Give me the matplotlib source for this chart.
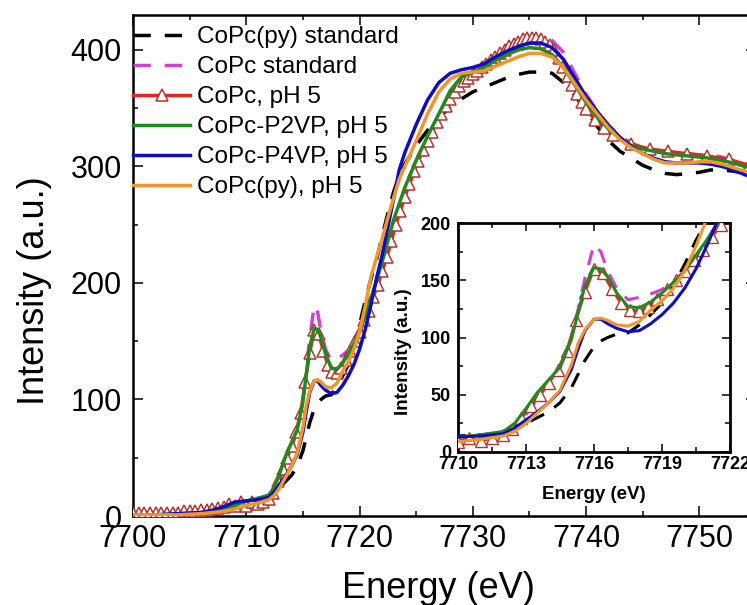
import matplotlib
matplotlib.use("Agg")
import matplotlib.pyplot as plt
from matplotlib.ticker import MultipleLocator
from matplotlib import font_manager

# ---------------- data ----------------
energy = [7700, 7702, 7704, 7706, 7707, 7708, 7709, 7710, 7711, 7712,
          7712.5, 7713, 7713.5, 7714, 7714.5, 7715, 7715.3, 7715.6, 7716, 7716.3,
          7716.6, 7717, 7717.5, 7718, 7718.5, 7719, 7719.5, 7720, 7720.5, 7721,
          7721.5, 7722, 7722.5, 7723, 7723.5, 7724, 7725, 7726, 7727, 7728,
          7729, 7730, 7731, 7732, 7733, 7734, 7735, 7736, 7737, 7738,
          7739, 7740, 7741, 7742, 7743, 7744, 7745, 7746, 7747, 7748,
          7749, 7750, 7751, 7752, 7753, 7754, 7755]

copc_py_std = [1, 1, 2, 3, 5, 8, 11, 14, 15, 17,
               20, 25, 30, 35, 43, 56, 68, 80, 92, 97,
               100, 103, 104, 111, 120, 130, 145, 164, 185, 203,
               220, 240, 260, 278, 292, 302, 318, 331, 342, 351,
               358, 364, 368, 372, 376, 379, 381, 381, 380, 372,
               361, 348, 334, 322, 313, 307, 301, 297, 294, 293,
               294, 295, 297, 297, 296, 294, 291]

copc_std = [1, 1, 2, 3, 4, 6, 8, 10, 12, 16,
            22, 33, 46, 60, 73, 100, 125, 152, 181, 175,
            158, 143, 133, 135, 138, 142, 149, 158, 170, 184,
            198, 212, 228, 245, 260, 275, 300, 322, 342, 362,
            374, 382, 388, 395, 400, 404, 407, 409, 408, 398,
            380, 362, 347, 335, 326, 320, 316, 314, 312, 312,
            311, 310, 310, 308, 305, 302, 298]

copc_p2vp = [1, 1, 2, 3, 4, 6, 9, 13, 15, 18,
             25, 38, 52, 63, 74, 98, 122, 145, 161, 160,
             153, 139, 127, 126, 131, 139, 148, 158, 172, 186,
             202, 218, 236, 254, 268, 282, 305, 326, 345, 365,
             377, 381, 385, 391, 396, 400, 402, 401, 396, 385,
             370, 355, 342, 332, 324, 318, 315, 313, 311, 310,
             309, 308, 307, 305, 303, 300, 297]

copc_p4vp = [1, 1, 2, 3, 5, 8, 12, 13, 14, 16,
             21, 28, 35, 43, 53, 72, 90, 106, 116, 116,
             112, 108, 105, 106, 112, 120, 130, 143, 160, 181,
             204, 224, 248, 272, 297, 312, 336, 357, 372, 380,
             383, 385, 388, 394, 399, 403, 406, 406, 402, 392,
             376, 360, 347, 335, 325, 317, 311, 307, 304, 303,
             303, 303, 302, 300, 297, 293, 289]

copc_py_ph5 = [1, 1, 1, 2, 3, 4, 6, 9, 11, 14,
               18, 25, 34, 43, 54, 76, 95, 107, 116, 117,
               115, 111, 110, 114, 124, 132, 143, 158, 180, 205,
               222, 238, 256, 273, 289, 300, 322, 345, 364, 375,
               380, 381, 382, 386, 390, 394, 397, 397, 394, 385,
               371, 357, 345, 333, 323, 316, 311, 306, 303, 303,
               303, 304, 304, 302, 299, 296, 292]

energy_red = [7700, 7700.5, 7701, 7701.5, 7702, 7702.5, 7703, 7703.5, 7704, 7704.5,
              7705, 7705.5, 7706, 7706.5, 7707, 7707.5, 7708, 7708.5, 7709, 7709.5,
              7710, 7710.5, 7711, 7711.5,
              7712.0, 7712.4, 7712.8, 7713.2, 7713.6, 7714.0, 7714.4, 7714.8, 7715.2, 7715.6,
              7716.0, 7716.4, 7716.8, 7717.2, 7717.6, 7718.0, 7718.4, 7718.8, 7719.2, 7719.6,
              7720.0, 7720.4, 7720.8, 7721.2, 7721.6, 7722.0, 7722.4, 7722.8, 7723.2, 7723.6,
              7724.0, 7724.4, 7724.8, 7725.2, 7725.6, 7726.0, 7726.4, 7726.8, 7727.2, 7727.6,
              7728.0, 7728.4, 7728.8, 7729.2, 7729.6, 7730.0, 7730.4, 7730.8, 7731.2, 7731.6,
              7732.0, 7732.4, 7732.8, 7733.2, 7733.6, 7734.0, 7734.4, 7734.8, 7735.2, 7735.6,
              7736.0, 7736.4, 7736.8, 7737.2, 7737.6, 7738.0, 7738.4, 7738.8, 7739.2, 7739.6,
              7740.0, 7740.8, 7741.6, 7742.4, 7744.0, 7745.6, 7747.2, 7748.9, 7750.7, 7752.6,
              7754.4]

copc_ph5 = [3, 3, 3, 3, 3, 3, 3, 3, 3, 4,
            4, 4, 5, 5, 6, 7, 8, 10, 9, 12,
            9, 12, 10, 12,
            15, 20, 30, 40, 50, 60, 72, 88, 115, 140,
            160, 156, 142, 130, 124, 123, 127, 134, 142, 150,
            158, 168, 176, 188, 198, 210, 222, 236, 250, 262,
            274, 285, 296, 305, 314, 322, 330, 338, 345, 352,
            358, 364, 369, 373, 376, 379, 382, 385, 388, 391,
            394, 397, 400, 403, 405, 407, 409, 410, 410, 410,
            409, 407, 404, 400, 393, 385, 378, 370, 362, 355,
            349, 340, 333, 327, 319, 315, 313, 311, 309, 306,
            301]

labels = ["CoPc(py) standard", "CoPc standard", "CoPc, pH 5",
          "CoPc-P2VP, pH 5", "CoPc-P4VP, pH 5", "CoPc(py), pH 5"]

main_xticks = [7700, 7710, 7720, 7730, 7740, 7750]
main_yticks = [0, 100, 200, 300, 400]
inset_xticks = [7710, 7713, 7716, 7719, 7722]
inset_yticks = [0, 50, 100, 150, 200]

# ---------------- style ----------------
fams = {f.name for f in font_manager.fontManager.ttflist}
base = "Liberation Sans" if "Liberation Sans" in fams else "DejaVu Sans"
narrow = "Liberation Sans Narrow" if "Liberation Sans Narrow" in fams else base
plt.rcParams["font.family"] = [base, "DejaVu Sans"]

C_BLACK = "#000000"
C_MAG = "#d23fd2"
C_RED = "#e3261f"
C_TRI = "#b3342c"
C_GREEN = "#1f8a1f"
C_BLUE = "#0d0dc4"
C_ORANGE = "#f2952b"
LW = 2.5
DASH = (5, 4)


def draw(ax, lw=LW, ms=9, mew=1.1):
    ax.plot(energy, copc_py_std, color=C_BLACK, lw=lw, dashes=DASH, label=labels[0], zorder=2)
    ax.plot(energy, copc_std, color=C_MAG, lw=lw, dashes=DASH, label=labels[1], zorder=2)
    ax.plot(energy_red, copc_ph5, color=C_RED, lw=lw, marker="^", ms=ms,
            mfc="white", mec=C_TRI, mew=mew, label=labels[2], zorder=3)
    ax.plot(energy, copc_p2vp, color=C_GREEN, lw=lw, label=labels[3], zorder=4)
    ax.plot(energy, copc_p4vp, color=C_BLUE, lw=lw, label=labels[4], zorder=4)
    ax.plot(energy, copc_py_ph5, color=C_ORANGE, lw=lw, label=labels[5], zorder=5)


fig = plt.figure(figsize=(7.47, 6.05), dpi=100)
ax = fig.add_axes([133 / 747, 89 / 605, 623 / 747, 501 / 605])
draw(ax)
ax.set_xlim(7700, 7755)
ax.set_ylim(0, 430)
ax.set_xticks(main_xticks)
ax.set_yticks(main_yticks)
ax.xaxis.set_minor_locator(MultipleLocator(5))
ax.yaxis.set_minor_locator(MultipleLocator(50))
ax.tick_params(which="both", direction="in", top=True, right=True, width=1.1)
ax.tick_params(which="major", length=7)
ax.tick_params(which="minor", length=3.5)
ax.tick_params(axis="x", which="major", labelsize=22, pad=6)
ax.tick_params(axis="y", which="major", labelsize=22, pad=8)
for s in ax.spines.values():
    s.set_linewidth(1.8)
ax.set_xlabel("Energy (eV)", fontsize=26)
ax.set_ylabel("Intensity (a.u.)", fontsize=26)
ax.xaxis.set_label_coords(0.49, -0.11)
ax.yaxis.set_label_coords(-0.13, 0.45)

leg = ax.legend(loc="upper left", bbox_to_anchor=(0.0, 0.978), frameon=False,
                fontsize=17.5, handlelength=2.35, handletextpad=0.3,
                labelspacing=0.33, borderpad=0, borderaxespad=0)

# ---------------- inset ----------------
ins = fig.add_axes([458 / 747, (605 - 452) / 605, 272 / 747, 229 / 605])
draw(ins, lw=2.2, ms=8, mew=1.0)
ins.set_xlim(7710, 7722)
ins.set_ylim(0, 200)
ins.set_xticks(inset_xticks)
ins.set_yticks(inset_yticks)
ins.xaxis.set_minor_locator(MultipleLocator(1.5))
ins.yaxis.set_minor_locator(MultipleLocator(25))
ins.tick_params(which="both", direction="in", top=True, right=True, width=1.1)
ins.tick_params(which="major", length=5.5)
ins.tick_params(which="minor", length=3.5)
ins.tick_params(axis="y", labelsize=13, pad=5)
ins.tick_params(axis="x", labelsize=16 if narrow != base else 13, pad=3)
for t in ins.get_yticklabels():
    t.set_fontweight("bold")
for t in ins.get_xticklabels():
    t.set_fontweight("bold")
    t.set_fontfamily([narrow, "DejaVu Sans"])
for s in ins.spines.values():
    s.set_linewidth(2.0)
ins.set_xlabel("Energy (eV)", fontsize=13.5, fontweight="bold")
ins.set_ylabel("Intensity (a.u.)", fontsize=13.5, fontweight="bold")
ins.xaxis.set_label_coords(0.5, -0.15)
ins.yaxis.set_label_coords(-0.17, 0.44)

fig.savefig("out.png", dpi=100)
